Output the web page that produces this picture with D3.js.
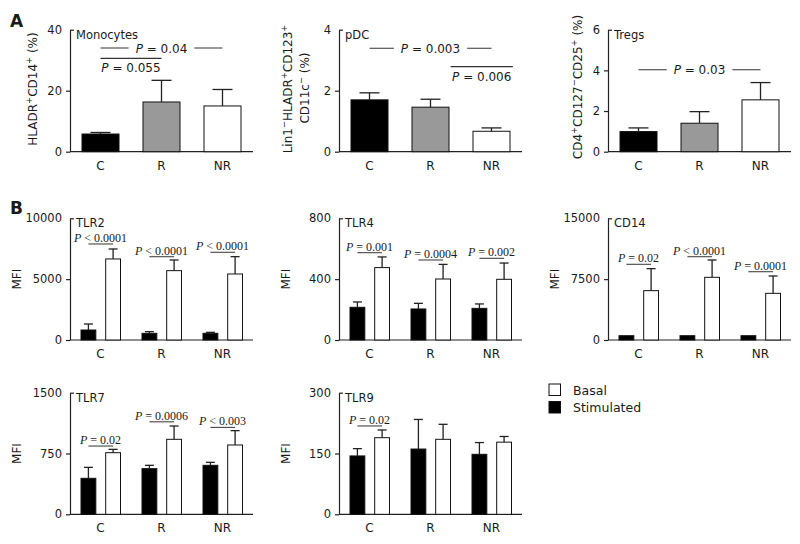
<!DOCTYPE html>
<html>
<head>
<meta charset="utf-8">
<script src="https://cdn.jsdelivr.net/npm/d3@7"></script>
<style>
  body { margin: 0; background: #fff; }
  text { font-family: "DejaVu Sans", sans-serif; fill: #1a1a1a; }
</style>
</head>
<body>
<svg id="chart" width="800" height="544"></svg>
<script>
// groups on the x axis
const groups = ["C", "R", "NR"];

// panel A : mean and SEM (%)
const monoMean = [5.8, 16.3, 15.0];
const monoSem  = [0.5, 7.1, 5.4];
const pdcMean  = [1.70, 1.46, 0.67];
const pdcSem   = [0.23, 0.26, 0.11];
const tregMean = [0.99, 1.40, 2.55];
const tregSem  = [0.18, 0.57, 0.85];

// panel B : MFI, stimulated (black) and basal (white)
const tlr2Stim = [822, 548, 548],  tlr2StimSem = [493, 137, 82];
const tlr2Bas  = [6658, 5699, 5425], tlr2BasSem = [821, 876, 1424];
const tlr4Stim = [215, 204, 208],  tlr4StimSem = [35, 37, 29];
const tlr4Bas  = [476, 401, 399],  tlr4BasSem  = [70, 96, 107];
const cd14Stim = [530, 530, 530],  cd14StimSem = [0, 0, 0];
const cd14Bas  = [6082, 7726, 5753], cd14BasSem = [2713, 2137, 2137];
const tlr7Stim = [444, 563, 604],  tlr7StimSem = [135, 41, 37];
const tlr7Bas  = [760, 925, 855],  tlr7BasSem  = [41, 164, 177];
const tlr9Stim = [144, 161, 148],  tlr9StimSem = [18, 73, 29];
const tlr9Bas  = [189, 185, 178],  tlr9BasSem  = [19, 37, 14];

// p values (B): label and height of the bracket in data units
const tlr2P = [["< 0.0001", 7890], ["< 0.0001", 6845], ["< 0.0001", 7206]];
const tlr4P = [["= 0.001", 574], ["= 0.0004", 526], ["= 0.002", 537]];
const cd14P = [["= 0.02", 9330], ["< 0.0001", 10267], ["= 0.0001", 8418]];
const tlr7P = [["= 0.02", 842], ["= 0.0006", 1141], ["< 0.003", 1072]];
const tlr9P = [["= 0.02", 218], null, null];

const svg = d3.select("#chart");
const W = 183;            // width of each plot
const colX = [70, 339, 608];
const rowA = [29.7, 151.7], rowB1 = [218.3, 340], rowB2 = [392.7, 514.3];

// write text with superscripts: parts = [[str, isSup], ...]
function richText(sel, parts) {
  let up = false;
  parts.forEach(([s, sup]) => {
    const t = sel.append("tspan").text(s);
    if (sup && !up) { t.attr("dy", -5).attr("font-size", "0.7em"); up = true; }
    else if (sup) { t.attr("font-size", "0.7em"); }
    else if (up) { t.attr("dy", 5); up = false; }
  });
}

function pText(g, x, y, str, serif) {
  const t = g.append("text").attr("x", x).attr("y", y).attr("text-anchor", "middle")
    .attr("font-size", 12);
  if (serif) t.style("font-family", "'Liberation Serif', serif");
  t.append("tspan").attr("font-style", "italic").text("P");
  t.append("tspan").text(" " + str);
  return t;
}

function frame(x0, row, max, ticks, title) {
  const g = svg.append("g");
  const y = d3.scaleLinear().domain([0, max]).range([row[1], row[0]]);
  const x = d3.scalePoint().domain(groups).range([x0, x0 + W]).padding(0.5);

  const ax = g.append("g").attr("transform", `translate(${x0},0)`)
    .call(d3.axisLeft(y).tickValues(ticks).tickFormat(d3.format("d"))
      .tickSize(4).tickSizeOuter(0).tickPadding(4));
  ax.selectAll("text").attr("font-size", 11.5).style("font-family", "'DejaVu Sans', sans-serif").attr("fill", "#1a1a1a");
  ax.selectAll("line,path").attr("stroke", "#222").attr("stroke-width", 1.2);
  ax.selectAll(".tick").filter(d => d === max).select("line").attr("x2", 4);

  g.append("line").attr("x1", x0).attr("x2", x0 + W).attr("y1", row[1]).attr("y2", row[1])
    .attr("stroke", "#222").attr("stroke-width", 1.2);

  g.selectAll(".cat").data(groups).join("text")
    .attr("x", d => x(d)).attr("y", row[1] + 18).attr("text-anchor", "middle")
    .attr("font-size", 12).text(d => d);

  g.append("text").attr("x", x0 + 6).attr("y", row[0] + 9).attr("font-size", 11.5).text(title);
  return { g, x, y };
}

function errBar(g, cx, y, mean, sem, w) {
  if (!sem) return;
  g.append("line").attr("x1", cx).attr("x2", cx).attr("y1", y(mean)).attr("y2", y(mean + sem))
    .attr("stroke", "#222").attr("stroke-width", 1.3);
  g.append("line").attr("x1", cx - w / 2).attr("x2", cx + w / 2)
    .attr("y1", y(mean + sem)).attr("y2", y(mean + sem))
    .attr("stroke", "#222").attr("stroke-width", 1.3);
}

// ---------- panel A ----------
const fillsA = ["#000", "#999", "#fff"];
const barW = 37;

function panelA(x0, max, ticks, title, mean, sem, sigs) {
  const { g, x, y } = frame(x0, rowA, max, ticks, title);
  groups.forEach((d, i) => {
    g.append("rect").attr("x", x(d) - barW / 2).attr("y", y(mean[i]))
      .attr("width", barW).attr("height", y(0) - y(mean[i]))
      .attr("fill", fillsA[i]).attr("stroke", "#111").attr("stroke-width", 1);
    errBar(g, x(d), y, mean[i], sem[i], 20);
  });
  const xi = d3.scaleLinear().domain([0, 2]).range([x("C"), x("NR")]);
  sigs.forEach(s => {
    const ly = y(s.v);
    g.append("line").attr("x1", xi(s.from)).attr("x2", xi(s.to)).attr("y1", ly).attr("y2", ly)
      .attr("stroke", "#333").attr("stroke-width", 1.1);
    const cx = (xi(s.from) + xi(s.to)) / 2;
    if (s.mode === "inline") {
      const t = pText(g, cx, ly + 4.5, s.text, false);
      const b = t.node().getBBox();
      g.insert("rect", () => t.node()).attr("x", b.x - 7).attr("y", b.y)
        .attr("width", b.width + 14).attr("height", b.height).attr("fill", "#fff");
    } else {
      pText(g, cx, ly + 14, s.text, false);
    }
  });
  return g;
}

panelA(colX[0], 40, [0, 20, 40], "Monocytes", monoMean, monoSem, [
  { from: 0, to: 2, v: 34, text: "= 0.04", mode: "inline" },
  { from: 0, to: 1, v: 30.6, text: "= 0.055", mode: "below" }
]);
panelA(colX[1], 4, [0, 2, 4], "pDC", pdcMean, pdcSem, [
  { from: 0, to: 2, v: 3.39, text: "= 0.003", mode: "inline" },
  { from: 1.33, to: 2.35, v: 2.79, text: "= 0.006", mode: "below" }
]);
panelA(colX[2], 6, [0, 2, 4, 6], "Tregs", tregMean, tregSem, [
  { from: 0, to: 2, v: 4.03, text: "= 0.03", mode: "inline" }
]);

// y labels, panel A
function yLabel(cx, cy, parts, size) {
  const t = svg.append("text").attr("transform", `translate(${cx},${cy}) rotate(-90)`)
    .attr("text-anchor", "middle").attr("font-size", size || 12);
  richText(t, parts);
}
yLabel(36.5, 89, [["HLADR"], ["+", 1], ["CD14"], ["+", 1], [" (%)"]]);
yLabel(292, 89, [["Lin1"], ["\u2212", 1], ["HLADR"], ["+", 1], ["CD123"], ["+", 1]]);
yLabel(309, 88, [["CD11c"], ["\u2212", 1], [" (%)"]]);
yLabel(582, 87, [["CD4"], ["+", 1], ["CD127"], ["\u2212", 1], ["CD25"], ["+", 1], [" (%)"]]);

// ---------- panel B ----------
const sub = d3.scaleBand().domain(["Stimulated", "Basal"]).range([-19.5, 20]).paddingInner(0.4);

function panelB(x0, row, max, ticks, title, stim, stimSem, bas, basSem, pv) {
  const { g, x, y } = frame(x0, row, max, ticks, title);
  const bw = sub.bandwidth();
  groups.forEach((d, i) => {
    [["Stimulated", stim, stimSem, "#000"], ["Basal", bas, basSem, "#fff"]].forEach(([k, m, s, f]) => {
      const bx = x(d) + sub(k);
      g.append("rect").attr("x", bx).attr("y", y(m[i])).attr("width", bw)
        .attr("height", y(0) - y(m[i])).attr("fill", f).attr("stroke", "#111").attr("stroke-width", 1);
      errBar(g, bx + bw / 2, y, m[i], s[i], 9);
    });
    if (pv[i]) {
      const ly = y(pv[i][1]);
      g.append("line").attr("x1", x(d) + sub("Stimulated") + bw / 2)
        .attr("x2", x(d) + sub("Basal") + bw / 2).attr("y1", ly).attr("y2", ly)
        .attr("stroke", "#444").attr("stroke-width", 1.1);
      pText(g, x(d), ly - 2, pv[i][0], true);
    }
  });
  yLabel(x0 - 49.5, (row[0] + row[1]) / 2, [["MFI"]]);
}

panelB(colX[0], rowB1, 10000, [0, 5000, 10000], "TLR2", tlr2Stim, tlr2StimSem, tlr2Bas, tlr2BasSem, tlr2P);
panelB(colX[1], rowB1, 800, [0, 400, 800], "TLR4", tlr4Stim, tlr4StimSem, tlr4Bas, tlr4BasSem, tlr4P);
panelB(colX[2], rowB1, 15000, [0, 7500, 15000], "CD14", cd14Stim, cd14StimSem, cd14Bas, cd14BasSem, cd14P);
panelB(colX[0], rowB2, 1500, [0, 750, 1500], "TLR7", tlr7Stim, tlr7StimSem, tlr7Bas, tlr7BasSem, tlr7P);
panelB(colX[1], rowB2, 300, [0, 150, 300], "TLR9", tlr9Stim, tlr9StimSem, tlr9Bas, tlr9BasSem, tlr9P);

// legend
const legend = [["Basal", "#fff"], ["Stimulated", "#000"]];
const lg = svg.append("g").attr("transform", "translate(549,384)");
legend.forEach(([name, f], i) => {
  lg.append("rect").attr("x", 0).attr("y", i * 17.5).attr("width", 11.5).attr("height", 11.5)
    .attr("fill", f).attr("stroke", "#111").attr("stroke-width", 1);
  lg.append("text").attr("x", 24).attr("y", i * 17.5 + 10.5).attr("font-size", 12.5).text(name);
});

// panel letters
svg.append("text").attr("x", 10).attr("y", 27).attr("font-size", 17).attr("font-weight", "bold").text("A");
svg.append("text").attr("x", 10).attr("y", 214).attr("font-size", 17).attr("font-weight", "bold").text("B");
</script>
</body>
</html>
